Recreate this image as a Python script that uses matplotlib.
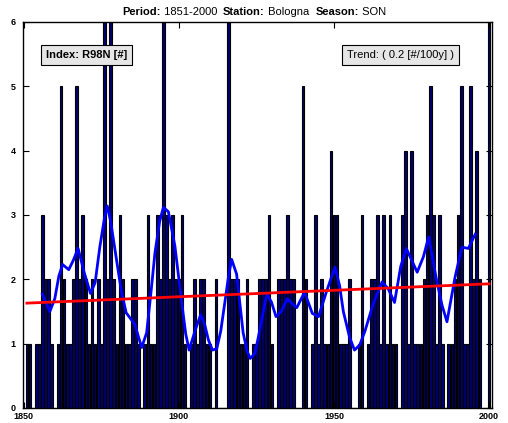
import matplotlib
matplotlib.use("Agg")
import matplotlib.pyplot as plt
import numpy as np

plt.rcParams['font.family'] = ['Liberation Sans', 'DejaVu Sans']

# yearly counts of R98N, Bologna, autumn (SON)
years = list(range(1851, 2001))
counts = [1, 1, 0, 1, 1, 3, 2, 2, 1, 0,
          1, 5, 2, 1, 1, 2, 5, 2, 3, 2,
          1, 2, 1, 2, 1, 7, 2, 7, 2, 1,
          3, 2, 1, 1, 2, 2, 1, 0, 1, 3,
          1, 1, 3, 2, 7, 3, 2, 3, 2, 2,
          3, 1, 0, 1, 2, 1, 2, 2, 1, 1,
          0, 2, 0, 0, 0, 7, 2, 2, 2, 1,
          1, 2, 0, 1, 1, 2, 2, 2, 3, 1,
          0, 2, 2, 2, 3, 2, 2, 0, 0, 5,
          2, 0, 1, 3, 1, 2, 1, 1, 4, 3,
          3, 1, 1, 1, 2, 0, 0, 1, 3, 0,
          1, 2, 2, 3, 1, 3, 1, 3, 1, 1,
          0, 3, 4, 1, 4, 1, 1, 1, 2, 3,
          5, 3, 1, 3, 1, 0, 1, 1, 2, 3,
          5, 1, 1, 5, 2, 4, 2, 0, 0, 7]

# smoothed curve
smooth_years = [1856, 1857, 1858.4, 1860, 1861.3, 1862.5, 1864.5, 1866, 1867.5,
                1869.5, 1871.5, 1873, 1874.5, 1876, 1876.9, 1878, 1879.9, 1881.5,
                1883, 1885.8, 1887, 1888, 1889.6, 1891, 1892.3, 1893.8, 1895,
                1896.6, 1898.7, 1900.9, 1902.2, 1903.3, 1905.2, 1907, 1908.3, 1909.5,
                1910.8, 1912.2, 1913.5, 1914.8, 1916, 1917, 1918.6, 1920.7, 1922,
                1923, 1924.5, 1925.6, 1928.3, 1929.8, 1931.3, 1933, 1935, 1936.5,
                1938, 1940.5, 1943, 1945, 1947.5, 1950.3, 1951.8, 1953, 1955,
                1956.6, 1958.3, 1960, 1962.5, 1965.5, 1967.5, 1969.5, 1971.5, 1973.3,
                1975, 1976.8, 1978.8, 1980.5, 1983, 1984.8, 1986.4, 1989, 1991.2,
                1993.3, 1995.5]
smooth_vals = [1.77, 1.65, 1.5, 1.7, 2.05, 2.23, 2.15, 2.3, 2.48,
               2.1, 1.78, 1.95, 2.5, 2.95, 3.14, 2.9, 2.3, 1.8,
               1.48, 1.3, 1.1, 0.94, 1.17, 1.8, 2.42, 2.9, 3.12,
               3.05, 2.52, 1.64, 1.15, 0.9, 1.2, 1.45, 1.3, 1.06,
               0.9, 0.92, 1.2, 1.64, 2.05, 2.31, 2.08, 1.17, 0.88,
               0.77, 0.85, 1.1, 1.77, 1.65, 1.42, 1.5, 1.7, 1.62,
               1.56, 1.8, 1.47, 1.42, 1.8, 2.19, 1.9, 1.5, 1.1,
               0.9, 0.98, 1.2, 1.6, 1.96, 1.85, 1.64, 2.2, 2.48,
               2.3, 2.11, 2.35, 2.66, 2.0, 1.6, 1.34, 2.03, 2.5,
               2.48, 2.7]

trend_years = [1851, 2000]
trend_vals = [1.63, 1.93]

fig = plt.figure(figsize=(5.08, 4.23), dpi=100)
ax = fig.add_axes([0.045, 0.0355, 0.924, 0.9125])

ax.bar(years, counts, width=0.85, color='#000070', edgecolor='black', linewidth=0.8)
ax.plot(smooth_years, smooth_vals, color='#0000ff', linewidth=2)
ax.plot(trend_years, trend_vals, color='red', linewidth=2)

ax.set_xlim(1849.7, 2001)
ax.set_ylim(0, 6)
ax.set_xticks([1850, 1900, 1950, 2000])
ax.set_yticks(range(7))
ax.tick_params(direction='in', length=4, width=0.8, top=True, right=True,
               labelsize=6.5)
ax.tick_params(axis='x', pad=3)
ax.tick_params(axis='y', pad=5)
for lab in ax.get_xticklabels() + ax.get_yticklabels():
    lab.set_fontweight('bold')
for s in ax.spines.values():
    s.set_linewidth(1)

box = dict(boxstyle='square,pad=0.45', facecolor='#e6e6e6', edgecolor='black', linewidth=0.8)
ax.text(0.135, 0.914, 'Index: R98N [#]', transform=ax.transAxes, fontsize=8,
        fontweight='bold', ha='center', va='center', bbox=box)
ax.text(0.804, 0.914, 'Trend: ( 0.2 [#/100y] )', transform=ax.transAxes, fontsize=8,
        ha='center', va='center', bbox=box)

# title made of bold and normal pieces
pieces = [('Period:', 'bold'), (' 1851-2000  ', 'normal'), ('Station:', 'bold'),
          (' Bologna  ', 'normal'), ('Season:', 'bold'), (' SON', 'normal')]
items = [fig.text(0, 0, txt, fontsize=8, fontweight=w, ha='left', va='baseline')
         for txt, w in pieces]
fig.canvas.draw()
r = fig.canvas.get_renderer()
widths = [t.get_window_extent(r).width for t in items]
x0 = (fig.bbox.width - sum(widths)) / 2
for t, w in zip(items, widths):
    t.set_transform(None)
    t.set_position((x0, fig.bbox.height * 0.964))
    x0 += w

fig.savefig('out.png', dpi=100)
